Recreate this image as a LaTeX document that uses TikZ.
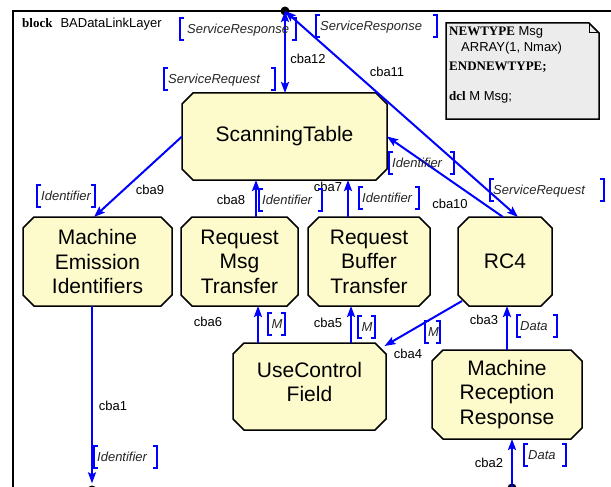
\documentclass[tikz,border=0pt]{standalone}
\usepackage{fontspec}
\setmainfont{Liberation Sans}
\newfontfamily\kwfont{Liberation Serif}
\usetikzlibrary{arrows.meta}

\definecolor{boxfill}{RGB}{253,251,203}
\definecolor{notefill}{RGB}{236,236,236}
\definecolor{linkblue}{RGB}{0,0,255}

\tikzset{
  agentline/.style={draw=black, line width=1.5pt, fill=boxfill},
  agent/.style={rectangle, inner sep=0pt, outer sep=0pt, align=center,
    font=\fontsize{21}{24.5}\selectfont},
  conn/.style={draw=linkblue, line width=2pt, ->},
  biconn/.style={draw=linkblue, line width=2pt, <->},
  lbl/.style={inner sep=0pt, text height=9.3pt, text depth=0pt,
    font=\fontsize{13}{15}\selectfont},
  sigtxt/.style={inner sep=0pt, anchor=west, text height=9.3pt, text depth=0pt,
    font=\fontsize{13}{15}\selectfont\itshape, text=black!85},
  sigbr/.style={draw=linkblue, line width=1.6pt},
  gate/.style={circle, fill=black, minimum size=9pt, inner sep=0pt},
  frameline/.style={draw=black, line width=2pt},
  notebox/.style={draw=black, line width=1.5pt, fill=notefill},
  notetxt/.style={inner sep=0pt, anchor=base west,
    font=\fontsize{13}{15}\selectfont},
}

% agent: name, centre x, centre y, width, height, text (corners cut by 11)
\newcommand\agent[6]{%
  \draw[agentline] (#2-#4/2+11,#3-#5/2) -- (#2+#4/2-11,#3-#5/2)
    -- (#2+#4/2,#3-#5/2+11) -- (#2+#4/2,#3+#5/2-11)
    -- (#2+#4/2-11,#3+#5/2) -- (#2-#4/2+11,#3+#5/2)
    -- (#2-#4/2,#3+#5/2-11) -- (#2-#4/2,#3-#5/2+11) -- cycle;
  \node[agent, minimum width=#4pt, minimum height=#5pt] (#1) at (#2,#3) {#6};
}

% signal list: name, left bracket x, right bracket x, centre y, text x, text
\newcommand\sigbox[6]{%
  \draw[sigbr] (#2+4,#4-11) -| (#2,#4+11) -- (#2+4,#4+11);
  \draw[sigbr] (#3-4,#4-11) -| (#3,#4+11) -- (#3-4,#4+11);
  \node[sigtxt] (#1) at (#5,#4) {#6};
}

\begin{document}
\begin{tikzpicture}[x=1pt, y=-1pt,
  >={Stealth[length=11pt,width=8pt,inset=2pt]}]
\useasboundingbox (0,0) rectangle (611,487);
\clip (0,0) rectangle (611,487);

% enclosing block frame and its heading
\draw[frameline] (640,11) -- (13,11) -- (13,520);
\node[notetxt] (blk) at (22,28)
  {{\kwfont\bfseries block}\hspace{8pt}BADataLinkLayer};

% text symbol with declarations
\draw[notebox] (446,23) -- (589,23) -- (599,33) -- (599,119) -- (446,119) -- cycle;
\draw[line width=1pt] (589,23) -- (589,33) -- (599,33);
\node[notetxt] (nt1) at (449,36) {{\kwfont\bfseries NEWTYPE} Msg};
\node[notetxt] (nt2) at (461,52) {ARRAY(1, Nmax)};
\node[notetxt] (nt3) at (449,71) {{\kwfont\bfseries ENDNEWTYPE;}};
\node[notetxt] (nt4) at (449,100) {{\kwfont\bfseries dcl} M Msg;};

% agents
\agent{st}{284.5}{136.5}{205}{87}{ScanningTable}
\agent{mei}{97.5}{261.5}{149}{89}{Machine\\Emission\\Identifiers}
\agent{rmt}{239.5}{261.5}{117}{89}{Request\\Msg\\Transfer}
\agent{rbt}{369}{261.5}{122}{89}{Request\\Buffer\\Transfer}
\agent{rc4}{505}{261.5}{94}{89}{RC4}
\agent{ucf}{309.5}{386.5}{153}{87}{UseControl\\Field\\[-15pt]}
\agent{mrr}{507}{394.5}{150}{89}{Machine\\Reception\\Response}

% gates on the frame
\node[gate] (d1) at (285,11) {};
\node[gate] (d2) at (512,488) {};
\node[gate] (d3) at (92,490) {};

% channels
\draw[biconn] (d1.center) -- (d1.center |- st.north);
\draw[biconn] (d1.center) -- ([xshift=13pt]rc4.north);
\draw[conn] (st.west) -- ([xshift=-3.5pt]mei.north);
\draw[conn] ([xshift=16.5pt]rmt.north) -- ([xshift=-28.5pt]st.south);
\draw[conn] ([xshift=-21pt]rbt.north) -- ([xshift=63.5pt]st.south);
\draw[conn] ([xshift=-2pt]rc4.north) -- (st.east);
\draw[conn] ([xshift=-51.5pt]ucf.north) -- ([xshift=18.5pt]rmt.south);
\draw[conn] ([xshift=41.5pt]ucf.north) -- ([xshift=-18pt]rbt.south);
\draw[conn] ([xshift=-43pt,yshift=5pt]rc4.south) -- ([xshift=75pt,yshift=-3pt]ucf.north);
\draw[conn] (mrr.north) -- (mrr.north |- rc4.south);
\draw[conn] (d2.center) -- (d2.center |- mrr.south);
\draw[conn] (d3.center |- mei.south) -- ([yshift=2pt]d3.north);

% channel names
\node[lbl] (l12) at (308,59) {cba12};
\node[lbl] (l11) at (387,72) {cba11};
\node[lbl] (l9) at (150,190) {cba9};
\node[lbl] (l8) at (231,200) {cba8};
\node[lbl] (l7) at (328,187) {cba7};
\node[lbl] (l10) at (450,204) {cba10};
\node[lbl] (l6) at (208,322) {cba6};
\node[lbl] (l5) at (328,323) {cba5};
\node[lbl] (l4) at (408,354) {cba4};
\node[lbl] (l3) at (484,320) {cba3};
\node[lbl] (l2) at (489,463) {cba2};
\node[lbl] (l1) at (113,406) {cba1};

% signal lists
\sigbox{s12a}{180}{296}{29}{187}{ServiceResponse}
\sigbox{s12b}{164}{275}{79}{168}{ServiceRequest}
\sigbox{s11a}{316}{437}{26}{320}{ServiceResponse}
\sigbox{s11b}{490}{604}{190}{493}{ServiceRequest}
\sigbox{s9}{37}{95}{196}{41}{Identifier}
\sigbox{s8}{259}{322}{200}{262}{Identifier}
\sigbox{s7}{359}{419}{198}{362}{Identifier}
\sigbox{s10}{389}{454}{163}{392}{Identifier}
\sigbox{s6}{268}{285}{324}{271.5}{M}
\sigbox{s5}{358}{375}{327}{361.5}{M}
\sigbox{s4}{425}{440}{332}{428}{M}
\sigbox{s3}{517}{557}{326}{520}{Data}
\sigbox{s2}{524}{566}{455}{528}{Data}
\sigbox{s1}{94}{157}{457}{97}{Identifier}
\end{tikzpicture}
\end{document}
